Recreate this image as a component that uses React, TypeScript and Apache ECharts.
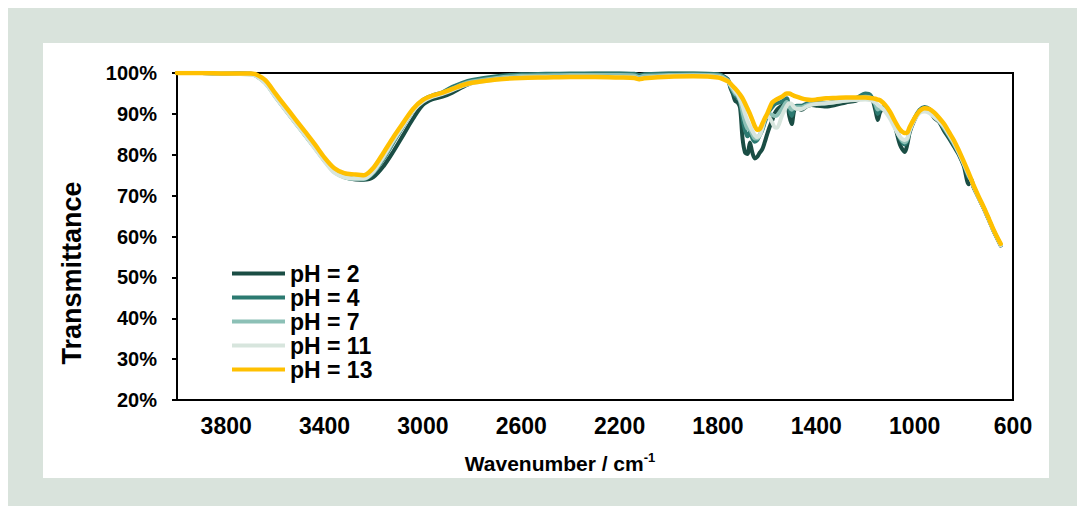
import React, { useEffect, useRef } from "react";
import * as echarts from "echarts";

const wavenumbers = [
  4000, 3900, 3800, 3700, 3680, 3640, 3600, 3560, 3520, 3480,
  3440, 3400, 3360, 3320, 3280, 3240, 3200, 3160, 3120, 3080,
  3040, 3000, 2960, 2920, 2880, 2840, 2800, 2700, 2600, 2500,
  2400, 2300, 2200, 2140, 2120, 2100, 2000, 1900, 1800, 1760,
  1750, 1740, 1730, 1720, 1710, 1700, 1690, 1680, 1670, 1660,
  1650, 1640, 1630, 1620, 1610, 1600, 1590, 1580, 1570, 1560,
  1540, 1520, 1510, 1500, 1490, 1480, 1460, 1440, 1420, 1400,
  1360, 1320, 1280, 1240, 1200, 1180, 1160, 1150, 1140, 1120,
  1100, 1080, 1060, 1040, 1030, 1020, 1000, 980, 960, 940,
  920, 900, 880, 860, 840, 820, 800, 780, 770, 760,
  740, 720, 700, 680, 660, 650,
];

const ph2 = [
  100.0, 100.0, 99.9, 99.8, 99.5, 97.8, 94.5, 91.3, 88.2, 85.0,
  81.9, 78.8, 76.0, 74.6, 74.0, 73.9, 74.6, 77.2, 80.8, 84.8,
  88.8, 92.2, 93.6, 94.2, 95.2, 96.5, 97.6, 98.8, 99.4, 99.6,
  99.7, 99.8, 99.8, 99.7, 99.4, 99.6, 99.8, 99.8, 99.6, 98.5,
  96.5, 95.0, 93.2, 92.8, 91.5, 84.0, 80.6, 80.2, 83.0, 80.5,
  79.1, 79.5, 80.5, 81.3, 83.0, 85.0, 86.8, 88.3, 90.0, 91.0,
  92.0, 93.0, 89.5, 87.5, 90.8, 91.4, 91.0, 91.8, 92.2, 92.0,
  91.8, 92.2, 92.8, 93.2, 94.3, 94.3, 91.0, 88.5, 90.5, 91.6,
  89.8, 87.0, 82.5, 80.7, 82.5, 85.5, 88.6, 90.6, 91.4, 90.8,
  89.0, 88.0, 85.8, 84.0, 82.0, 80.0, 77.2, 72.8, 73.8, 72.0,
  69.5, 67.0, 64.3, 61.5, 59.0, 57.8,
];

const ph4 = [
  100.0, 100.0, 99.9, 99.8, 99.4, 97.6, 94.3, 91.1, 88.0, 84.9,
  81.8, 78.6, 75.9, 74.6, 74.1, 74.0, 75.6, 79.0, 83.0, 87.0,
  90.8, 93.4, 94.5, 95.3, 96.6, 97.6, 98.3, 99.2, 99.7, 99.8,
  99.9, 99.9, 99.9, 99.8, 99.5, 99.7, 99.9, 99.9, 99.7, 98.3,
  96.8, 95.5, 94.5, 94.0, 93.0, 89.0, 86.0, 84.5, 85.5, 84.0,
  83.2, 83.6, 84.8, 86.0, 87.8, 89.5, 90.8, 91.6, 92.3, 92.6,
  93.0, 93.8, 91.0, 89.5, 91.6, 92.0, 92.0, 92.5, 92.8, 92.6,
  92.6, 93.0, 93.4, 93.8, 95.0, 94.6, 92.0, 90.0, 91.0, 91.8,
  90.0, 87.5, 84.0, 82.5, 83.5, 86.0, 89.0, 91.0, 91.7, 91.2,
  89.5, 88.3, 86.3, 84.5, 82.4, 80.3, 77.6, 74.5, 74.0, 72.2,
  69.6, 67.1, 64.4, 61.6, 59.1, 57.9,
];

const ph7 = [
  100.0, 100.0, 99.9, 99.7, 99.4, 97.5, 94.2, 91.0, 87.9, 84.8,
  81.7, 78.5, 75.7, 74.5, 74.1, 74.1, 75.8, 79.3, 83.3, 87.1,
  90.8, 93.2, 94.3, 95.1, 96.2, 97.2, 97.9, 98.8, 99.3, 99.4,
  99.5, 99.5, 99.5, 99.4, 99.0, 99.3, 99.5, 99.6, 99.4, 98.2,
  97.0, 96.0, 95.0, 94.4, 93.2, 90.5, 88.0, 86.4, 86.2, 85.0,
  84.0, 84.0, 84.8, 86.2, 88.3, 89.5, 90.0, 89.8, 89.5, 89.6,
  91.2, 92.9, 91.8, 91.0, 91.6, 91.6, 91.6, 92.1, 92.5, 92.5,
  92.6, 92.9, 93.3, 93.6, 94.2, 94.0, 92.4, 91.1, 91.4, 91.2,
  89.4, 87.0, 84.2, 83.0, 83.7, 86.0, 88.8, 90.6, 91.1, 90.7,
  89.3, 88.2, 86.6, 84.7, 82.7, 80.4, 77.7, 74.8, 73.9, 72.2,
  69.6, 67.1, 64.4, 61.6, 59.1, 57.9,
];

const ph11 = [
  100.0, 100.0, 99.9, 99.6, 99.3, 97.4, 94.2, 91.0, 87.9, 84.8,
  81.6, 78.4, 75.6, 74.5, 74.2, 74.2, 76.0, 79.6, 83.6, 87.2,
  90.8, 93.0, 94.2, 94.9, 95.8, 96.8, 97.5, 98.4, 98.9, 99.0,
  99.1, 99.1, 99.0, 98.9, 98.5, 98.8, 99.2, 99.3, 99.0, 98.0,
  97.2, 96.5, 95.5, 94.8, 93.5, 92.0, 90.0, 88.3, 87.0, 85.8,
  84.8, 84.3, 84.8, 86.5, 88.8, 89.6, 89.0, 88.0, 86.8, 86.6,
  89.5, 92.0, 92.6, 92.4, 91.6, 91.2, 91.2, 91.8, 92.2, 92.4,
  92.6, 92.9, 93.2, 93.4, 93.5, 93.4, 92.8, 92.2, 91.8, 90.6,
  88.8, 86.5, 84.4, 83.6, 84.0, 86.0, 88.6, 90.2, 90.6, 90.2,
  89.2, 88.2, 86.9, 85.0, 83.0, 80.6, 77.9, 75.2, 73.8, 72.3,
  69.6, 67.1, 64.4, 61.6, 59.1, 57.9,
];

const ph13 = [
  100.0, 100.0, 99.9, 99.9, 99.7, 98.2, 95.0, 91.9, 88.8, 85.7,
  82.6, 79.3, 76.7, 75.5, 75.2, 75.0, 76.9, 80.5, 84.3, 87.8,
  91.2, 93.4, 94.5, 95.2, 96.1, 97.0, 97.6, 98.4, 98.8, 98.9,
  99.0, 99.0, 98.9, 98.8, 98.5, 98.7, 99.1, 99.2, 98.9, 98.0,
  97.5, 96.8, 96.2, 95.5, 94.7, 93.8, 92.6, 91.3, 90.0, 88.5,
  87.0, 86.1, 86.3, 87.5, 88.8, 90.0, 91.4, 92.7, 93.2, 93.6,
  94.2, 95.0, 95.0, 94.7, 94.4, 94.2, 93.8, 93.5, 93.4, 93.5,
  93.8, 93.9, 94.0, 94.0, 94.0, 93.9, 93.7, 93.5, 93.3, 92.2,
  90.5, 88.2, 86.2, 85.3, 85.4, 86.8, 89.0, 90.7, 91.4, 91.2,
  90.3, 89.0, 87.5, 85.5, 83.5, 81.0, 78.3, 75.5, 74.0, 72.5,
  69.8, 67.3, 64.6, 61.8, 59.3, 58.2,
];

const seriesNames = ["pH = 2", "pH = 4", "pH = 7", "pH = 11", "pH = 13"];
const seriesValues = [ph2, ph4, ph7, ph11, ph13];
const seriesColors = ["#1a4d44", "#2c7a71", "#8cc0b6", "#d7e5dd", "#ffc000"];
const xTickLabels = [3800, 3400, 3000, 2600, 2200, 1800, 1400, 1000, 600];

const FONT = 'Arial, "Liberation Sans", sans-serif';

export default function App() {
  const ref = useRef<HTMLDivElement>(null);

  useEffect(() => {
    if (!ref.current) return;
    const chart = echarts.init(ref.current, undefined, { renderer: "svg" });
    chart.setOption({
      animation: false,
      textStyle: { fontFamily: FONT },
      grid: {
        left: 177,
        right: 64,
        top: 73,
        bottom: 106,
        show: true,
        borderColor: "#000",
        borderWidth: 2,
        backgroundColor: "transparent",
      },
      legend: {
        orient: "vertical",
        left: 232,
        top: 262,
        padding: 0,
        itemWidth: 53,
        itemHeight: 4,
        itemGap: 1,
        icon: "rect",
        data: seriesNames,
        textStyle: {
          fontFamily: FONT,
          fontSize: 23,
          fontWeight: "bold",
          color: "#000",
          lineHeight: 20,
        },
      },
      xAxis: {
        type: "value",
        min: 600,
        max: 4000,
        interval: 200,
        inverse: true,
        axisLine: { show: true, lineStyle: { color: "#000", width: 2 } },
        axisTick: { show: false },
        splitLine: { show: false },
        axisLabel: {
          margin: 14,
          fontFamily: FONT,
          fontSize: 23,
          fontWeight: "bold",
          color: "#000",
          showMaxLabel: false,
          formatter: (v: number) => (xTickLabels.indexOf(v) >= 0 ? String(v) : ""),
        },
      },
      yAxis: {
        type: "value",
        min: 20,
        max: 100,
        interval: 10,
        axisLine: { show: true, lineStyle: { color: "#000", width: 2 } },
        axisTick: { show: true, length: 5, lineStyle: { color: "#000", width: 2 } },
        splitLine: { show: false },
        axisLabel: {
          margin: 20,
          fontFamily: FONT,
          fontSize: 20,
          fontWeight: "bold",
          color: "#000",
          formatter: "{value}%",
        },
      },
      graphic: [
        {
          type: "text",
          x: 72,
          y: 273,
          rotation: Math.PI / 2,
          style: {
            text: "Transmittance",
            font: `bold 27px ${FONT}`,
            fill: "#000",
            align: "center",
            verticalAlign: "middle",
          },
        },
        {
          type: "text",
          x: 560,
          y: 463,
          style: {
            text: "{b|Wavenumber / cm}{s|-1}",
            align: "center",
            verticalAlign: "middle",
            fill: "#000",
            rich: {
              b: { fontFamily: FONT, fontSize: 21, fontWeight: "bold", fill: "#000", color: "#000", lineHeight: 24 },
              s: { fontFamily: FONT, fontSize: 13, fontWeight: "bold", fill: "#000", color: "#000", lineHeight: 24, verticalAlign: "top", padding: [0, 0, 10, 0] },
            },
          },
        },
      ],
      series: seriesNames.map((name, i) => ({
        name,
        type: "line",
        showSymbol: false,
        symbol: "none",
        smooth: 0.3,
        color: seriesColors[i],
        lineStyle: { color: seriesColors[i], width: i === 4 ? 4.5 : 4, cap: "round", join: "round" },
        data: wavenumbers.map((w, j) => [w, seriesValues[i][j]]),
        z: 2 + i,
      })),
    });
    return () => chart.dispose();
  }, []);

  return (
    <div style={{ position: "fixed", left: 0, top: 0, width: 1077, height: 506, background: "#fff" }}>
      <div style={{ position: "absolute", left: 8, top: 8, width: 1069, height: 498, background: "#d9e3dc" }} />
      <div style={{ position: "absolute", left: 43, top: 43, width: 1006, height: 435, background: "#fff" }} />
      <div ref={ref} style={{ position: "absolute", left: 0, top: 0, width: 1077, height: 506 }} />
    </div>
  );
}
